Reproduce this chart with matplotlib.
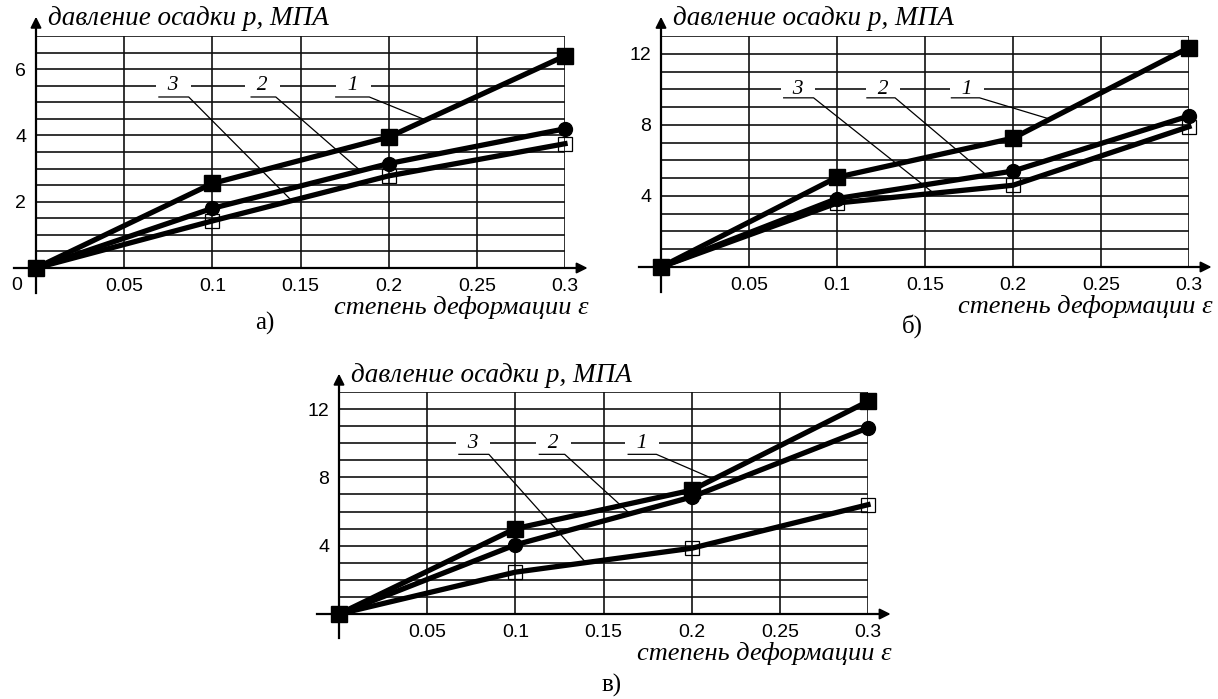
import matplotlib
matplotlib.use("Agg")
import matplotlib.pyplot as plt
import numpy as np

# strain values (x) shared by all three panels
eps = [0, 0.1, 0.2, 0.3]

# panel а) pressure, MPa
a1 = [0, 2.55, 3.95, 6.4]
a2 = [0, 1.8, 3.15, 4.2]
a3 = [0, 1.42, 2.78, 3.75]
# panel б)
b1 = [0, 5.05, 7.25, 12.35]
b2 = [0, 3.85, 5.4, 8.5]
b3 = [0, 3.6, 4.6, 7.9]
# panel в)
v1 = [0, 5.0, 7.25, 12.45]
v2 = [0, 4.05, 6.85, 10.9]
v3 = [0, 2.45, 3.85, 6.4]

xticks = [0.05, 0.1, 0.15, 0.2, 0.25, 0.3]
ylabel = "давление осадки p, МПА"
xlabel = "степень деформации ε"

W, H = 1218, 699
fig = plt.figure(figsize=(W / 100, H / 100), dpi=100)

serif = ["Liberation Serif", "DejaVu Serif"]
narrow = ["Liberation Sans Narrow", "Liberation Sans", "DejaVu Sans"]


def make_axes(L, R, T, B):
    return fig.add_axes([L / W, 1 - B / H, (R - L) / W, (B - T) / H])


def panel(ax, s1, s2, s3, ytop, ystep, ylab_every, labels, show_zero, xlab_y):
    ax.set_xlim(0, 0.3)
    ax.set_ylim(0, ytop)
    for sp in ax.spines.values():
        sp.set_visible(False)

    # grid
    for x in xticks:
        ax.axvline(x, color="#111111", lw=1.2, zorder=1)
    yg = np.arange(ystep, ytop + 1e-9, ystep)
    for y in yg:
        ax.axhline(y, color="#111111", lw=1.2, zorder=1)

    ax.set_xticks(xticks)
    ax.set_xticklabels([f"{x:g}" for x in xticks], family=narrow, fontsize=14)
    ax.set_yticks(yg)
    ax.set_yticklabels([f"{y:g}" if abs(y / ylab_every - round(y / ylab_every)) < 1e-6 else ""
                        for y in yg], family=narrow, fontsize=14)
    ax.tick_params(length=0)
    ax.tick_params(axis="x", pad=7)
    ax.tick_params(axis="y", pad=7)

    # axis lines with arrows
    ax.plot([-0.042, 1.02], [0, 0], color="k", lw=1.6, transform=ax.transAxes, clip_on=False, zorder=3)
    ax.plot([0, 0], [-0.108, 1.05], color="k", lw=1.6, transform=ax.transAxes, clip_on=False, zorder=3)
    ax.annotate("", xy=(1.048, 0), xytext=(1.0, 0), xycoords="axes fraction",
                arrowprops=dict(arrowstyle="-|>", color="k", lw=1.4, mutation_scale=16), annotation_clip=False)
    ax.annotate("", xy=(0, 1.095), xytext=(0, 1.0), xycoords="axes fraction",
                arrowprops=dict(arrowstyle="-|>", color="k", lw=1.4, mutation_scale=16), annotation_clip=False)

    if show_zero:
        ax.text(-0.036, -0.075, "0", transform=ax.transAxes, ha="center", va="center",
                family=narrow, fontsize=14)

    ax.text(0.022, 1.075, ylabel, transform=ax.transAxes, ha="left", va="center",
            family=serif, style="italic", fontsize=19.5)
    ax.text(1.045, xlab_y, xlabel, transform=ax.transAxes, ha="right", va="center",
            family=serif, style="italic", fontsize=19)

    # curves
    ax.plot(eps, s3, color="k", lw=3.8, marker="s", ms=10, mfc="none", mec="k", mew=0.9,
            zorder=5, clip_on=False)
    ax.plot(eps, s2, color="k", lw=3.8, marker="o", ms=10, mfc="k", mec="k", zorder=6, clip_on=False)
    ax.plot(eps, s1, color="k", lw=3.8, marker="s", ms=11, mfc="k", mec="k", zorder=7, clip_on=False)

    # curve number callouts
    series = {"1": s1, "2": s2, "3": s3}
    ly, uy = labels["y"], labels["uy"]
    for name, tx, u0, u1, xe in labels["items"]:
        ax.text(tx, ly, "  " + name + "  ", ha="center", va="center", family=serif, style="italic",
                fontsize=15.5, zorder=2,
                bbox=dict(boxstyle="square,pad=0.05", fc="white", ec="none"))
        ye = np.interp(xe, eps, series[name])
        ax.plot([u0, u1, xe], [uy, uy, ye], color="k", lw=0.9, zorder=4)


ax_a = make_axes(36, 565, 36, 268)
panel(ax_a, a1, a2, a3, 7, 0.5, 2,
      dict(y=5.5, uy=5.16, items=[("3", 0.078, 0.0697, 0.0866, 0.145),
                                  ("2", 0.1285, 0.122, 0.136, 0.184),
                                  ("1", 0.18, 0.17, 0.189, 0.221)]), True, -0.172)

ax_b = make_axes(661, 1189, 36, 267)
panel(ax_b, b1, b2, b3, 13, 1, 4,
      dict(y=10, uy=9.52, items=[("3", 0.078, 0.0697, 0.0867, 0.155),
                                 ("2", 0.126, 0.117, 0.133, 0.185),
                                 ("1", 0.174, 0.165, 0.181, 0.221)]), False, -0.17)

ax_v = make_axes(339, 868, 392, 614)
panel(ax_v, v1, v2, v3, 13, 1, 4,
      dict(y=10, uy=9.35, items=[("3", 0.076, 0.068, 0.085, 0.14),
                                 ("2", 0.1216, 0.1136, 0.128, 0.165),
                                 ("1", 0.172, 0.164, 0.18, 0.2125)]), False, -0.178)

fig.text(265 / W, 1 - 323 / H, "а)", ha="center", va="center", family=serif, fontsize=18)
fig.text(912 / W, 1 - 326 / H, "б)", ha="center", va="center", family=serif, fontsize=18)
fig.text(612 / W, 1 - 685 / H, "в)", ha="center", va="center", family=serif, fontsize=18)

fig.savefig("out.png", dpi=100)
